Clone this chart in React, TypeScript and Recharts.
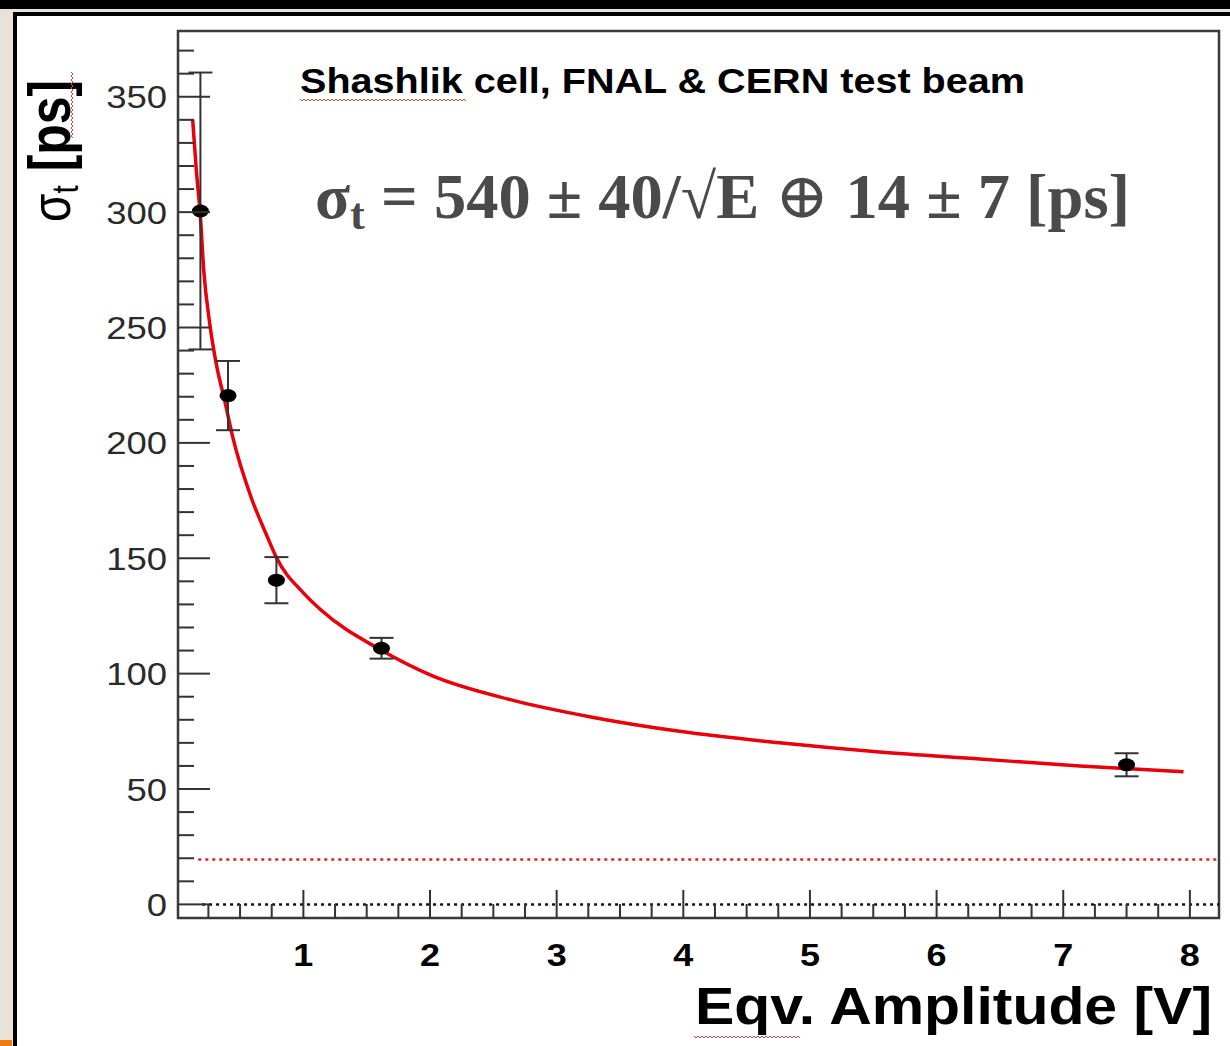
import React from "react";
import {
  ComposedChart,
  Scatter,
  Line,
  XAxis,
  YAxis,
  ErrorBar,
  ReferenceArea,
} from "recharts";

// measured points (Eqv. amplitude [V] -> time resolution [ps])
const amplitude = [0.187, 0.405, 0.787, 1.617, 7.5];
const sigma = [300.5, 220.5, 140.5, 111, 60.5];
const sigmaErr = [60, 15, 10, 4.5, 5];

// fitted curve
const fitAmplitude = [
  0.126, 0.155, 0.187, 0.213, 0.26, 0.313, 0.38, 0.44, 0.59, 0.71, 0.79, 1.0,
  1.13, 1.62, 2.02, 2.65, 3.29, 3.97, 4.76, 5.55, 6.34, 7.13, 7.95,
];
const fitSigma = [
  340, 318, 298, 275, 252, 234, 218, 203, 176, 160, 150, 135, 128, 110, 99,
  88.5, 81, 75, 70, 66, 63, 60, 57.5,
];

// dotted guide lines
const floorRange = [0.17, 8.23];
const floorLevel = 19.5;
const zeroRange = [0.2, 8.23];

const xDomain: [number, number] = [0.01, 8.23];
const yDomain: [number, number] = [-5.9, 378.5];
const xMajor = [1, 2, 3, 4, 5, 6, 7, 8];
const yMajor = [0, 50, 100, 150, 200, 250, 300, 350];
const xTicks = Array.from({ length: 32 }, (_, i) => (i + 1) * 0.25);
const yTicks = Array.from({ length: 38 }, (_, i) => i * 10);

const points = amplitude.map((x, i) => ({ x, y: sigma[i], err: sigmaErr[i] }));
const fit = fitAmplitude.map((x, i) => ({ x, y: fitSigma[i] }));
const floorLine = floorRange.map((x) => ({ x, y: floorLevel }));
const zeroLine = zeroRange.map((x) => ({ x, y: 0 }));

const SANS = '"Liberation Sans", Arial, Helvetica, sans-serif';
const SERIF = '"Liberation Serif", "DejaVu Serif", serif';
const STRETCH = 1.14; // the original image is stretched sideways

const YTick = (props: any) => {
  const { x, y, payload } = props;
  const v = payload.value;
  const major = yMajor.includes(v);
  const label = String(v);
  const w = label.length * 32 * 0.556 * STRETCH;
  return (
    <g>
      <line x1={x} x2={x + (major ? 32 : 16)} y1={y} y2={y} stroke="#333" strokeWidth={2} />
      {major && (
        <text
          x={x - 11 - w}
          y={y}
          dy="0.36em"
          fontFamily={SANS}
          fontSize={32}
          fill="#2a2a2a"
          textLength={w}
          lengthAdjust="spacingAndGlyphs"
        >
          {label}
        </text>
      )}
    </g>
  );
};

const XTick = (props: any) => {
  const { x, y, payload } = props;
  const v = payload.value;
  const major = xMajor.some((m) => Math.abs(m - v) < 1e-6);
  return (
    <g>
      <line x1={x} x2={x} y1={y} y2={y - (major ? 28 : 14)} stroke="#333" strokeWidth={2} />
      {major && (
        <text
          x={x - 10}
          y={y + 48}
          fontFamily={SANS}
          fontWeight="bold"
          fontSize={32}
          fill="#000"
          textLength={20}
          lengthAdjust="spacingAndGlyphs"
        >
          {v}
        </text>
      )}
    </g>
  );
};

const Dot = (props: any) => (
  <ellipse cx={props.cx} cy={props.cy} rx={8.5} ry={6.5} fill="#000" />
);

// red spell-check squiggle seen in the screenshot
const squiggle = (x0: number, y0: number, len: number, vertical = false) => {
  let d = `M${x0},${y0}`;
  for (let i = 2; i <= len; i += 2) {
    const o = (i / 2) % 2 === 0 ? 0 : 2;
    d += vertical ? ` L${x0 + o},${y0 + i}` : ` L${x0 + i},${y0 + o}`;
  }
  return <path d={d} stroke="#e04040" strokeWidth={1} fill="none" />;
};

export default function App() {
  return (
    <div
      style={{
        position: "fixed",
        left: 0,
        top: 0,
        width: 1230,
        height: 1046,
        background: "#e8e3da",
        overflow: "hidden",
      }}
    >
      <div style={{ position: "absolute", left: 0, top: 0, width: 1230, height: 9, background: "#000" }} />
      <div
        style={{
          position: "absolute",
          left: 13,
          top: 12,
          width: 1230,
          height: 1046,
          background: "#fff",
          borderTop: "4px solid #000",
          borderLeft: "4px solid #000",
        }}
      />
      <div style={{ position: "absolute", left: 0, top: 1040, width: 12, height: 6, background: "#f07a10" }} />
      <div style={{ position: "absolute", left: 0, top: 0 }}>
        <ComposedChart
          width={1230}
          height={1046}
          margin={{ top: 31, right: 11, bottom: 0, left: 0 }}
        >
          <XAxis
            type="number"
            dataKey="x"
            domain={xDomain}
            allowDataOverflow
            ticks={xTicks}
            interval={0}
            tick={<XTick />}
            tickLine={false}
            tickSize={0}
            tickMargin={0}
            axisLine={false}
            height={128}
          />
          <YAxis
            type="number"
            dataKey="y"
            domain={yDomain}
            allowDataOverflow
            ticks={yTicks}
            interval={0}
            tick={<YTick />}
            tickLine={false}
            tickSize={0}
            tickMargin={0}
            axisLine={false}
            width={178}
          />
          <ReferenceArea
            x1={xDomain[0]}
            x2={xDomain[1]}
            y1={yDomain[0]}
            y2={yDomain[1]}
            fill="none"
            stroke="#3a3a3a"
            strokeWidth={2.5}
          />
          <Line
            data={zeroLine}
            dataKey="y"
            stroke="#111"
            strokeWidth={2.5}
            strokeDasharray="3 4"
            dot={false}
            activeDot={false}
            isAnimationActive={false}
          />
          <Line
            data={floorLine}
            dataKey="y"
            stroke="#e0202a"
            strokeWidth={2.5}
            strokeDasharray="3 4"
            dot={false}
            activeDot={false}
            isAnimationActive={false}
          />
          <Line
            data={fit}
            dataKey="y"
            type="monotone"
            stroke="#e8000a"
            strokeWidth={3.5}
            dot={false}
            activeDot={false}
            isAnimationActive={false}
          />
          <Scatter data={points} dataKey="y" shape={<Dot />} isAnimationActive={false}>
            <ErrorBar
              dataKey="err"
              direction="y"
              width={12}
              stroke="#333"
              strokeWidth={2}
              isAnimationActive={false}
            />
          </Scatter>

          <text
            x={300}
            y={93}
            fontFamily={SANS}
            fontWeight="bold"
            fontSize={35}
            fill="#000"
            textLength={725}
            lengthAdjust="spacingAndGlyphs"
          >
            Shashlik cell, FNAL &amp; CERN test beam
          </text>
          {squiggle(300, 99, 166)}

          <text
            x={315}
            y={218}
            fontFamily={SERIF}
            fontWeight="bold"
            fontSize={64}
            fill="#4a4a4a"
            textLength={815}
            lengthAdjust="spacingAndGlyphs"
          >
            σ<tspan fontSize={44} dy={11}>t</tspan>
            <tspan dy={-11}> = 540 ± 40/√E </tspan>
            <tspan fontWeight="normal">⊕</tspan>
            <tspan> 14 ± 7 [ps]</tspan>
          </text>

          <text
            transform={`translate(70,222) rotate(-90) scale(1,1.2)`}
            fontFamily={SANS}
            fontSize={46}
            fill="#000"
          >
            σ<tspan fontSize={30} dy={7}>t</tspan>
            <tspan dy={-7} fontWeight="bold" fontSize={50}> [ps]</tspan>
          </text>
          {squiggle(71, 72, 66, true)}

          <text
            x={695}
            y={1024}
            fontFamily={SANS}
            fontWeight="bold"
            fontSize={51}
            fill="#000"
            textLength={517}
            lengthAdjust="spacingAndGlyphs"
          >
            Eqv. Amplitude [V]
          </text>
          {squiggle(694, 1036, 106)}
        </ComposedChart>
      </div>
    </div>
  );
}
